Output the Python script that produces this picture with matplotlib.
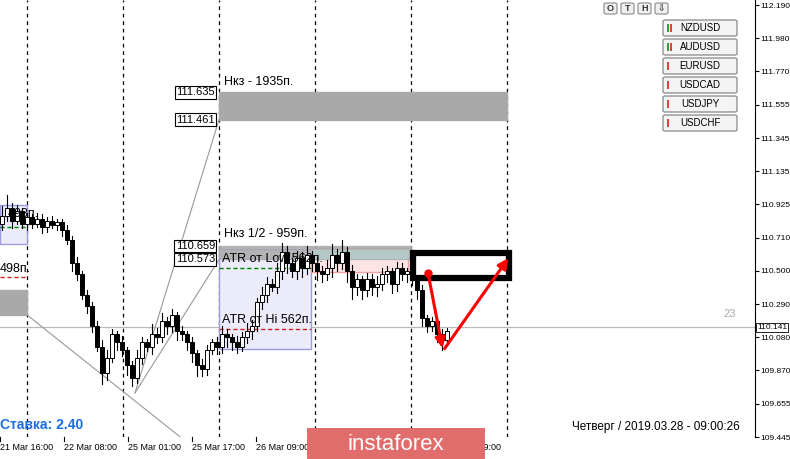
import matplotlib
matplotlib.use("Agg")
import matplotlib.pyplot as plt
from matplotlib.patches import Rectangle, FancyBboxPatch
plt.rcParams['font.family'] = ['Liberation Sans', 'DejaVu Sans']

closes = [110.85,110.90,110.82,110.88,110.80,110.84,110.80,110.83,110.78,110.82,110.79,110.81,
          110.76,110.70,110.55,110.48,110.35,110.28,110.15,110.02,109.85,109.95,110.10,110.05,
          110.00,109.90,109.82,109.95,110.05,110.02,110.10,110.08,110.18,110.15,110.22,110.12,
          110.10,110.05,109.98,109.90,109.88,110.00,110.05,110.02,110.10,110.08,110.05,110.02,
          110.08,110.12,110.15,110.30,110.35,110.42,110.40,110.50,110.62,110.55,110.50,110.58,
          110.52,110.60,110.55,110.50,110.48,110.52,110.60,110.55,110.62,110.50,110.40,110.45,
          110.38,110.45,110.40,110.42,110.48,110.50,110.42,110.52,110.48,110.50,110.45,110.38,
          110.20,110.15,110.18,110.10,110.06,110.12]
wick_up = [0.06,0.08,0.03,0.04,0.02,0.03,0.02,0.04,0.03,0.02,0.03,0.02,0.02,0.03,0.02,0.04,
           0.02,0.03,0.02,0.03,0.04,0.05,0.03,0.02,0.04,0.02,0.03,0.05,0.03,0.02,0.06,0.04,
           0.05,0.03,0.04,0.02,0.03,0.02,0.03,0.02,0.04,0.03,0.02,0.03,0.05,0.03,0.02,0.04,
           0.03,0.05,0.04,0.03,0.05,0.04,0.03,0.05,0.06,0.04,0.03,0.05,0.04,0.06,0.03,0.04,
           0.03,0.05,0.07,0.04,0.08,0.03,0.04,0.03,0.02,0.04,0.03,0.05,0.04,0.03,0.02,0.04,
           0.03,0.02,0.03,0.02,0.03,0.02,0.03,0.02,0.03,0.02]
wick_dn = [0.04,0.03,0.05,0.02,0.03,0.04,0.03,0.02,0.04,0.03,0.02,0.03,0.04,0.03,0.05,0.04,
           0.03,0.05,0.04,0.03,0.07,0.04,0.03,0.05,0.04,0.06,0.05,0.03,0.04,0.03,0.05,0.04,
           0.03,0.05,0.04,0.06,0.04,0.05,0.06,0.07,0.05,0.04,0.03,0.05,0.04,0.06,0.05,0.04,
           0.03,0.04,0.05,0.03,0.04,0.05,0.03,0.04,0.05,0.06,0.04,0.05,0.06,0.04,0.05,0.06,
           0.05,0.04,0.06,0.05,0.04,0.07,0.08,0.05,0.06,0.04,0.05,0.06,0.04,0.05,0.06,0.05,
           0.04,0.05,0.04,0.06,0.05,0.04,0.03,0.05,0.06,0.03]
first_open = 110.80
yticks = [112.190,111.980,111.770,111.555,111.345,111.135,110.925,110.710,110.500,
          110.290,110.080,109.870,109.655,109.445]
xlabels = ["21 Mar 16:00","22 Mar 08:00","25 Mar 01:00","25 Mar 17:00","26 Mar 09:00",
           "28 Mar 09:00"]
xlabel_slots = [0,1,2,3,4,7]
symbols = ["NZDUSD","AUDUSD","EURUSD","USDCAD","USDJPY","USDCHF"]
last_price = 110.141

W, H = 790, 459
fig = plt.figure(figsize=(W/100, H/100), dpi=100)
ax = fig.add_axes([0, (H-437)/H, 755/W, 437/H])
ax.set_xlim(0, 755)
top, bot = 112.222, 109.446
ax.set_ylim(bot, top)
k = (top-bot)/437
def P(y): return top - y*k

for s in ["top","left","bottom"]:
    ax.spines[s].set_visible(False)
ax.spines["right"].set_color("black")
ax.yaxis.tick_right()
ax.set_yticks(yticks)
ax.set_yticklabels([f"{v:.3f}" for v in yticks], fontsize=6)
ax.tick_params(axis="y", length=3, pad=1)
ax.set_xticks([])

for x in [27,123,219,315,411,507]:
    ax.axvline(x, color="black", ls=(0,(3,3)), lw=0.9, zorder=1)

ax.add_patch(Rectangle((219,111.461),288,111.635-111.461,color="#a9a9a9",zorder=2))
ax.add_patch(Rectangle((219,P(349)),92,P(249)-P(349),fc="#ebebfa",ec="#9a9ae6",lw=1,zorder=1.5))
ax.add_patch(Rectangle((0,P(244)),27,P(205)-P(244),fc="#ebebfa",ec="#9a9ae6",lw=1,zorder=1.5))
ax.add_patch(Rectangle((0,P(315)),27,P(290)-P(315),color="#a9a9a9",zorder=2))
ax.add_patch(Rectangle((311,P(272)),97,P(248)-P(272),fc="#fde4e4",ec="#f4a0a0",lw=1,zorder=1.5))
ax.add_patch(Rectangle((219,110.573),192,110.659-110.573,color="#a9a9a9",alpha=0.85,zorder=2))
ax.add_patch(Rectangle((311,P(258)),97,P(250)-P(258),color="#b4c8c8",zorder=2.1))
ax.plot([219,311],[P(268)]*2,color="green",ls=(0,(3,2)),lw=1,zorder=3)
ax.plot([219,311],[P(329)]*2,color="#d02020",ls=(0,(3,2)),lw=1,zorder=3)
ax.plot([0,27],[P(277)]*2,color="#d02020",ls=(0,(3,2)),lw=1,zorder=3)
ax.plot([0,27],[P(227)]*2,color="green",ls=(0,(3,2)),lw=1,zorder=3)

ax.plot([27,180],[P(315),P(437)],color="#999999",lw=0.8,zorder=2)
ax.plot([135,219],[P(393),111.461],color="#999999",lw=0.8,zorder=2)
ax.plot([135,219],[P(393),110.573],color="#999999",lw=0.8,zorder=2)
ax.axhline(last_price,color="#bbbbbb",lw=0.9,zorder=1)

prev = first_open
for i,c in enumerate(closes):
    x = 2 + 5*i
    o = prev
    hi = max(o,c)+wick_up[i]; lo = min(o,c)-wick_dn[i]
    ax.plot([x,x],[lo,hi],color="black",lw=0.8,zorder=4)
    b = min(o,c); h = max(abs(c-o),0.004)
    ax.add_patch(Rectangle((x-1.6,b),3.2,h,fc=("white" if c>=o else "black"),ec="black",lw=0.7,zorder=5))
    prev = c

def lab(x,y,t):
    ax.text(x,y,t,fontsize=8,ha="right",va="center",zorder=6,
            bbox=dict(boxstyle="square,pad=0.12",fc="white",ec="black",lw=0.8))
lab(215,111.635,"111.635"); lab(215,111.461,"111.461")
lab(215,110.659,"110.659"); lab(215,110.573,"110.573")
ax.text(224,P(82),"Нкз - 1935п.",fontsize=9,va="center",zorder=6)
ax.text(224,P(234),"Нкз 1/2 - 959п.",fontsize=9,va="center",zorder=6)
ax.text(222,P(259),"ATR от Low 562п.",fontsize=9,va="center",zorder=6)
ax.text(222,P(320),"ATR от Hi 562п.",fontsize=9,va="center",zorder=6)
ax.text(0,P(269),"498п.",fontsize=9,va="center",zorder=6)
ax.text(8,P(214),"498п.",fontsize=9,va="center",zorder=6)
ax.text(730,P(314),"23",fontsize=8,color="#aaaaaa",ha="center",va="center")
ax.text(0,P(425),"Ставка: 2.40",fontsize=10,color="#1a6fe0",fontweight="bold",va="center")
ax.text(740,P(427),"Четверг / 2019.03.28 - 09:00:26",fontsize=8.5,va="center",ha="right")

ax.add_patch(Rectangle((413,P(278)),96,P(253)-P(278),fill=False,ec="black",lw=4.5,zorder=7))
ax.plot([428],[P(273)],"o",color="red",ms=5,zorder=8)
ax.annotate("",xy=(443,P(351)),xytext=(428,P(273)),
            arrowprops=dict(arrowstyle="-|>,head_length=0.6,head_width=0.3",color="red",lw=2.2),zorder=8)
ax.annotate("",xy=(510,P(256)),xytext=(443,P(351)),
            arrowprops=dict(arrowstyle="-|>,head_length=0.6,head_width=0.3",color="red",lw=2.2),zorder=8)

fig.text(757/W,1-(437-(last_price-bot)/k)/H,"110.141",fontsize=6,va="center",ha="left",
         bbox=dict(boxstyle="square,pad=0.1",fc="white",ec="black",lw=0.6),zorder=9)

for slot,t in zip(xlabel_slots,xlabels):
    x0 = 64*slot
    fig.text(x0/W, 1-447/H, t, fontsize=6.5, va="center", ha="left")
    fig.lines.append(plt.Line2D([(x0)/W]*2,[1-437/H,1-441/H],transform=fig.transFigure,color="black",lw=0.8))

fig.patches.append(Rectangle((307/W,0),178/W,31/H,transform=fig.transFigure,fc="#e06c6c",ec="none",zorder=10))
fig.text(396/W,15/H,"instaforex",color="white",fontsize=16,ha="center",va="center",zorder=11)

for j,t in enumerate(["O","T","H","⇩"]):
    x0 = 604+17*j
    fig.patches.append(FancyBboxPatch((x0/W,1-14/H),13/W,11/H,boxstyle="round,pad=0,rounding_size=0.003",
                       transform=fig.transFigure,fc="#f0f0f0",ec="#888888",lw=0.8))
    fig.text((x0+6.5)/W,1-8.5/H,t,fontsize=6.5,fontweight="bold",ha="center",va="center",color="#333333")
for j,s in enumerate(symbols):
    y0 = 20+19*j
    fig.patches.append(FancyBboxPatch((663/W,1-(y0+16)/H),74/W,16/H,boxstyle="round,pad=0,rounding_size=0.003",
                       transform=fig.transFigure,fc="#f4f4f4",ec="#888888",lw=0.9))
    fig.text(700/W,1-(y0+8)/H,s,fontsize=7,ha="center",va="center")
    cols = ["#3a9a3a","#e04040"] if j<2 else ["#e04040"]
    for m,cc in enumerate(cols):
        fig.patches.append(Rectangle(((667+3*m)/W,1-(y0+12)/H),1.5/W,8/H,transform=fig.transFigure,fc=cc,ec="none"))

fig.savefig("out.png", dpi=100)
